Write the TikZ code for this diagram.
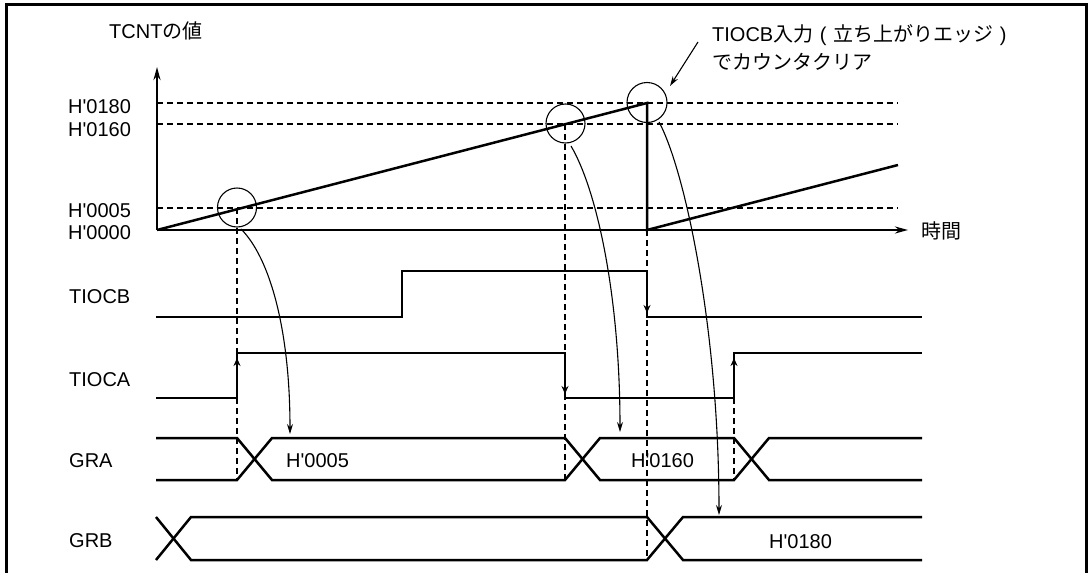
\documentclass[tikz,border=0pt]{standalone}
\usepackage{fontspec}
\newfontfamily\lsans{Liberation Sans}
\newfontfamily\jp{Noto Sans CJK JP}
\usetikzlibrary{arrows.meta}
\newcommand{\fwp}[1]{\makebox[20pt]{\lsans #1}}
\begin{document}
\begin{tikzpicture}[x=1pt,y=-1pt,
  sig/.style={line width=2.5pt},
  thinln/.style={line width=1.1pt},
  dsh/.style={line width=1.1pt, dash pattern=on 5.5pt off 4.5pt},
  lab/.style={font=\lsans\fontsize{20}{24}\selectfont, inner sep=0pt, anchor=base west},
  axtip/.style={-{Stealth[length=13pt,width=7pt]}},
  edgetip/.style={-{Stealth[length=8pt,width=7pt]}},
  curvetip/.style={-{Stealth[length=10pt,width=6pt]}}]
\useasboundingbox (0,0) rectangle (1088,573);
% frame
\draw[line width=3pt] (6.5,573) -- (6.5,4.5) -- (1086.5,4.5) -- (1086.5,573);

% key coordinates
\coordinate (O) at (157,230);
\coordinate (YT) at (157,67);
\coordinate (XT) at (908,230);
\coordinate (P180) at (647,103);
\coordinate (C0) at (647,230);
\coordinate (R2) at (898,165);

% dashed level lines
\draw[dsh] (157,103) -- (898,103);
\draw[dsh] (157,124) -- (898,124);
\draw[dsh] (157,208) -- (898,208);

% dashed verticals
\draw[dsh] (237,208) -- (237,480);
\draw[dsh] (565,124) -- (565,480);
\draw[dsh] (647,230) -- (647,560);
\draw[dsh] (734,398) -- (734,480);

% axes
\draw[sig,axtip] (O) -- (YT);
\draw[sig,axtip] (O) -- (XT);
% counter ramps
\draw[sig] (O) -- (P180) -- (C0) -- (R2);

% circles
\node[draw,thinln,circle,minimum size=39pt,inner sep=0pt] (c1) at (237,207.5) {};
\node[draw,thinln,circle,minimum size=39pt,inner sep=0pt] (c2) at (565.5,123.5) {};
\node[draw,thinln,circle,minimum size=40pt,inner sep=0pt] (c3) at (647,102.5) {};

% axis labels
\node[lab] (tcnt) at (109,38) {TCNT{\jp の値}};
\node[lab] (l180) at (68,113) {H'0180};
\node[lab] (l160) at (68,136) {H'0160};
\node[lab] (l005) at (68,217) {H'0005};
\node[lab] (l000) at (68,239) {H'0000};
\node[lab] (jikan) at (921,238) {\jp 時間};

% annotation
\node[lab] (ann1) at (712,41) {TIOCB{\jp 入力}\fwp{(}{\jp 立ち上がりエッジ}\fwp{)}};
\node[lab] (ann2) at (712,69) {\jp でカウンタクリア};
\coordinate (annS) at (698,42);
\coordinate (annE) at (670,86);
\draw[thinln,curvetip] (annS) -- (annE);

% signal labels
\node[lab] (ltiocb) at (69,303) {TIOCB};
\node[lab] (ltioca) at (69,386) {TIOCA};
\node[lab] (lgra) at (69,467) {GRA};
\node[lab] (lgrb) at (69,547) {GRB};

% TIOCB
\draw[sig] (156,317) -- (402,317) -- (402,271) -- (647,271) -- (647,317) -- (922,317);
\draw[sig,edgetip] (647,290) -- (647,313);
% TIOCA
\draw[sig] (156,398) -- (237,398) -- (237,353) -- (565,353) -- (565,398) -- (734,398) -- (734,353) -- (922,353);
\draw[sig,edgetip] (237,380) -- (237,358);
\draw[sig,edgetip] (565,370) -- (565,394);
\draw[sig,edgetip] (734,380) -- (734,358);

% GRA bus
\draw[sig] (156,438) -- (237,438) -- (272,480) -- (565,480) -- (600,438) -- (734,438) -- (769,480) -- (922,480);
\draw[sig] (156,480) -- (237,480) -- (272,438) -- (565,438) -- (600,480) -- (734,480) -- (769,438) -- (922,438);
\node[lab] (g005) at (286,467) {H'0005};
\node[lab] (g160) at (631,467) {H'0160};

% GRB bus
\draw[sig] (156,517) -- (191,560) -- (647,560) -- (683,517) -- (922,517);
\draw[sig] (156,560) -- (191,517) -- (647,517) -- (683,560) -- (922,560);
\node[lab] (g180) at (769,548) {H'0180};

% capture arrows
\coordinate (a1s) at (241,229);
\coordinate (a1e) at (290,434);
\coordinate (a2s) at (571,146);
\coordinate (a2e) at (620,432);
\coordinate (a3s) at (659,122);
\coordinate (a3e) at (719,515);
\draw[thinln,curvetip] (a1s) .. controls (270,258) and (290,330) .. (a1e);
\draw[thinln,curvetip] (a2s) .. controls (598,192) and (620,300) .. (a2e);
\draw[thinln,curvetip] (a3s) .. controls (685,170) and (719,330) .. (a3e);
\end{tikzpicture}
\end{document}
